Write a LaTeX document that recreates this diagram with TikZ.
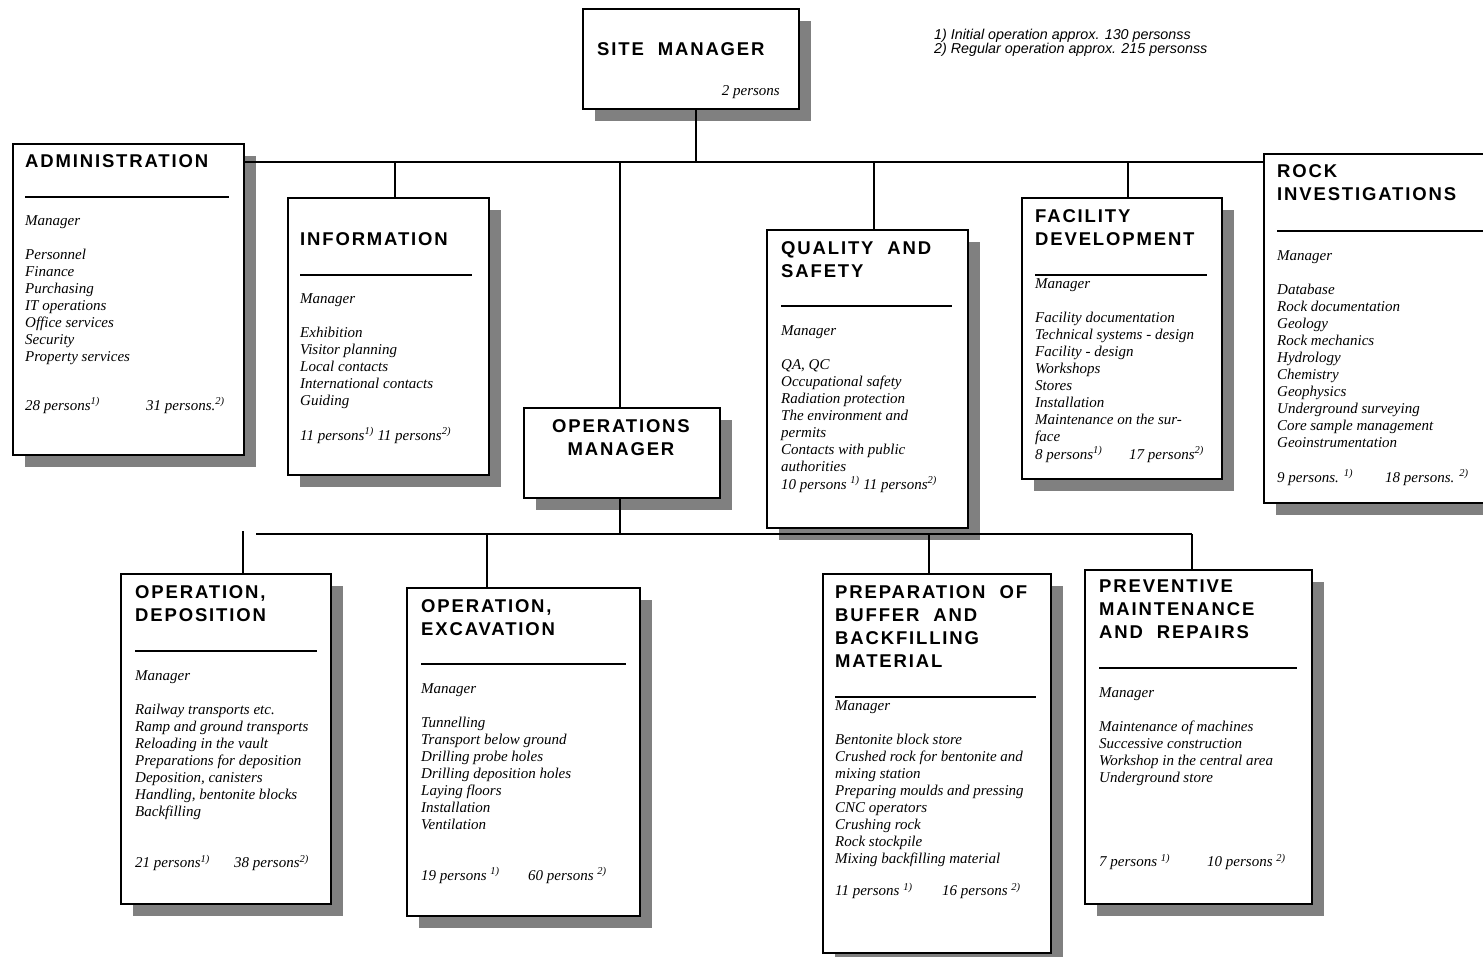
\documentclass[tikz,border=0pt]{standalone}
\usepackage{fontspec}
\setmainfont{Liberation Serif}
\newfontfamily\titlefont{Liberation Sans}[LetterSpace=10]
\newfontfamily\notefont{Liberation Sans}
\usetikzlibrary{shadows}
\newcommand\suOne{\textsuperscript{1)}}
\newcommand\suTwo{\textsuperscript{2)}}
\begin{document}
\begin{tikzpicture}[x=1pt,y=-1pt,
  orgbox/.style={draw=black, line width=1.5pt, fill=white, inner sep=0pt, anchor=north west,
    general shadow={fill=black!50, shadow xshift=12pt, shadow yshift=-12pt}},
  ttl/.style={font=\titlefont\bfseries\fontsize{18.5}{23}\selectfont, inner sep=0pt, anchor=base west},
  body/.style={font=\fontsize{15}{17}\selectfont\itshape, inner sep=0pt, anchor=base west},
  note/.style={font=\notefont\itshape\fontsize{14.3}{14}\selectfont, inner sep=0pt, anchor=base west},
  conn/.style={line width=1.3pt},
  hrule/.style={line width=1.6pt}]
\useasboundingbox (0,0) rectangle (1483,956);
\fill[white] (0,0) rectangle (1483,956);
\clip (0,0) rectangle (1483,956);

% boxes
\node[orgbox, minimum width=216pt, minimum height=100pt] (site) at (582,8) {};
\node[orgbox, minimum width=231pt, minimum height=311pt] (adm) at (12,143) {};
\node[orgbox, minimum width=201pt, minimum height=277pt] (info) at (287,197) {};
\node[orgbox, minimum width=196pt, minimum height=90pt] (ops) at (523,407) {};
\node[orgbox, minimum width=201pt, minimum height=298pt] (qual) at (766,229) {};
\node[orgbox, minimum width=200pt, minimum height=281pt] (fac) at (1021,197) {};
\node[orgbox, minimum width=240pt, minimum height=349pt] (rock) at (1263,153) {};
\node[orgbox, minimum width=210pt, minimum height=330pt] (dep) at (120,573) {};
\node[orgbox, minimum width=233pt, minimum height=328pt] (exc) at (406,587) {};
\node[orgbox, minimum width=228pt, minimum height=379pt] (prep) at (822,573) {};
\node[orgbox, minimum width=227pt, minimum height=334pt] (prev) at (1084,569) {};

% connectors
\coordinate (busT) at (0,162);
\coordinate (cSite) at (696,162);
\coordinate (cInfo) at (395,162);
\coordinate (cOps) at (620,162);
\coordinate (cQual) at (874,162);
\coordinate (cFac) at (1128,162);
\draw[conn] (adm.east |- busT) -- (rock.west |- busT);
\draw[conn] (cSite |- site.south) -- (cSite);
\draw[conn] (cInfo) -- (cInfo |- info.north);
\draw[conn] (cOps) -- (cOps |- ops.north);
\draw[conn] (cQual) -- (cQual |- qual.north);
\draw[conn] (cFac) -- (cFac |- fac.north);

\coordinate (busL) at (256,534);
\coordinate (cOpsB) at (620,534);
\coordinate (cDep) at (243,531);
\coordinate (cExc) at (487,534);
\coordinate (cPrep) at (929,534);
\coordinate (cPrev) at (1192,534);
\draw[conn] (busL) -- (cPrev);
\draw[conn] (cOpsB |- ops.south) -- (cOpsB);
\draw[conn] (cDep) -- (cDep |- dep.north);
\draw[conn] (cExc) -- (cExc |- exc.north);
\draw[conn] (cPrep) -- (cPrep |- prep.north);
\draw[conn] (cPrev) -- (cPrev |- prev.north);

% notes
\node[note] (notes) at (934,39) {\begin{tabular}[t]{@{}l@{}}1) Initial operation approx. 130 personss\\2) Regular operation approx. 215 personss\end{tabular}};

% site manager
\node[ttl] (siteT) at (597,55) {SITE\ \ MANAGER};
\node[body, anchor=base east] (siteP) at (780,95) {2 persons};

% administration
\node[ttl] (admT) at (25,167) {ADMINISTRATION};
\draw[hrule] (25,197) -- (229,197);
\node[body] (admL) at (25,225.5) {\begin{tabular}[t]{@{}l@{}}Manager\\ \\Personnel\\Finance\\Purchasing\\IT operations\\Office services\\Security\\Property services\end{tabular}};
\node[body] (admP) at (25,410) {\makebox[121pt][l]{28 persons\suOne}31 persons.\suTwo};

% information
\node[ttl] (infoT) at (300,245) {INFORMATION};
\draw[hrule] (300,275) -- (472,275);
\node[body] (infoL) at (300,303.5) {\begin{tabular}[t]{@{}l@{}}Manager\\ \\Exhibition\\Visitor planning\\Local contacts\\International contacts\\Guiding\\ \\11 persons\suOne{} 11 persons\suTwo\end{tabular}};

% operations manager
\node[ttl, anchor=base] (opsT) at (621,432) {\begin{tabular}[t]{@{}c@{}}OPERATIONS\\MANAGER\end{tabular}};

% quality and safety
\node[ttl] (qualT) at (781,254.5) {\begin{tabular}[t]{@{}l@{}}QUALITY\ \ AND\\SAFETY\end{tabular}};
\draw[hrule] (781,306) -- (952,306);
\node[body] (qualL) at (781,335.5) {\begin{tabular}[t]{@{}l@{}}Manager\\ \\QA, QC\\Occupational safety\\Radiation protection\\The environment and\\permits\\Contacts with public\\authorities\\10 persons \suOne{} 11 persons\suTwo\end{tabular}};

% facility development
\node[ttl] (facT) at (1035,222) {\begin{tabular}[t]{@{}l@{}}FACILITY\\DEVELOPMENT\end{tabular}};
\draw[hrule] (1035,275) -- (1207,275);
\node[body] (facL) at (1035,288.5) {\begin{tabular}[t]{@{}l@{}}Manager\\ \\Facility documentation\\Technical systems - design\\Facility - design\\Workshops\\Stores\\Installation\\Maintenance on the sur-\\face\\\makebox[94pt][l]{8 persons\suOne}17 persons\suTwo\end{tabular}};

% rock investigations
\node[ttl] (rockT) at (1277,177) {\begin{tabular}[t]{@{}l@{}}ROCK\\INVESTIGATIONS\end{tabular}};
\draw[hrule] (1277,231) -- (1483,231);
\node[body] (rockL) at (1277,260.5) {\begin{tabular}[t]{@{}l@{}}Manager\\ \\Database\\Rock documentation\\Geology\\Rock mechanics\\Hydrology\\Chemistry\\Geophysics\\Underground surveying\\Core sample management\\Geoinstrumentation\\ \\\makebox[108pt][l]{9 persons. \suOne}18 persons. \suTwo\end{tabular}};

% operation, deposition
\node[ttl] (depT) at (135,598.5) {\begin{tabular}[t]{@{}l@{}}OPERATION,\\DEPOSITION\end{tabular}};
\draw[hrule] (135,651) -- (317,651);
\node[body] (depL) at (135,680.5) {\begin{tabular}[t]{@{}l@{}}Manager\\ \\Railway transports etc.\\Ramp and ground transports\\Reloading in the vault\\Preparations for deposition\\Deposition, canisters\\Handling, bentonite blocks\\Backfilling\end{tabular}};
\node[body] (depP) at (135,867.5) {\makebox[99pt][l]{21 persons\suOne}38 persons\suTwo};

% operation, excavation
\node[ttl] (excT) at (421,612.5) {\begin{tabular}[t]{@{}l@{}}OPERATION,\\EXCAVATION\end{tabular}};
\draw[hrule] (421,664) -- (626,664);
\node[body] (excL) at (421,693.5) {\begin{tabular}[t]{@{}l@{}}Manager\\ \\Tunnelling\\Transport below ground\\Drilling probe holes\\Drilling deposition holes\\Laying floors\\Installation\\Ventilation\end{tabular}};
\node[body] (excP) at (421,880) {\makebox[107pt][l]{19 persons \suOne}60 persons \suTwo};

% preparation of buffer
\node[ttl] (prepT) at (835,598.5) {\begin{tabular}[t]{@{}l@{}}PREPARATION\ \ OF\\BUFFER\ \ AND\\BACKFILLING\\MATERIAL\end{tabular}};
\draw[hrule] (835,697) -- (1036,697);
\node[body] (prepL) at (835,710.5) {\begin{tabular}[t]{@{}l@{}}Manager\\ \\Bentonite block store\\Crushed rock for bentonite and\\mixing station\\Preparing moulds and pressing\\CNC operators\\Crushing rock\\Rock stockpile\\Mixing backfilling material\end{tabular}};
\node[body] (prepP) at (835,895.5) {\makebox[107pt][l]{11 persons \suOne}16 persons \suTwo};

% preventive maintenance
\node[ttl] (prevT) at (1099,592.5) {\begin{tabular}[t]{@{}l@{}}PREVENTIVE\\MAINTENANCE\\AND\ \ REPAIRS\end{tabular}};
\draw[hrule] (1099,668) -- (1297,668);
\node[body] (prevL) at (1099,697.5) {\begin{tabular}[t]{@{}l@{}}Manager\\ \\Maintenance of machines\\Successive construction\\Workshop in the central area\\Underground store\end{tabular}};
\node[body] (prevP) at (1099,866.5) {\makebox[108pt][l]{7 persons \suOne}10 persons \suTwo};
\end{tikzpicture}
\end{document}
